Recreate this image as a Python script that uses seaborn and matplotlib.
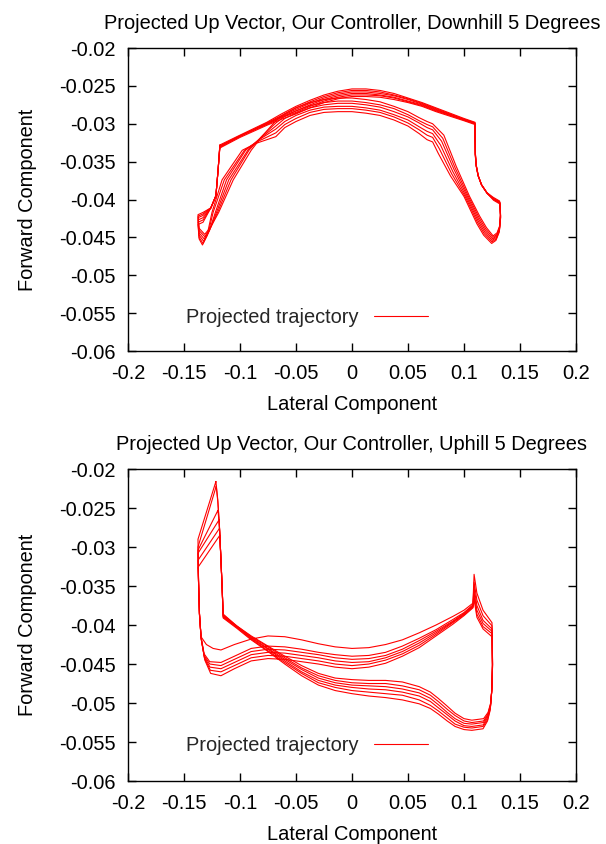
import seaborn as sns
import matplotlib.pyplot as plt
import pandas as pd
from matplotlib.lines import Line2D

# axis ticks shared by both panels
x_ticks = [-0.2, -0.15, -0.1, -0.05, 0.0, 0.05, 0.1, 0.15, 0.2]
x_tick_labels = ["-0.2", "-0.15", "-0.1", "-0.05", "0", "0.05", "0.1", "0.15", "0.2"]
y_ticks = [-0.02, -0.025, -0.03, -0.035, -0.04, -0.045, -0.05, -0.055, -0.06]
y_tick_labels = ["-0.02", "-0.025", "-0.03", "-0.035", "-0.04", "-0.045", "-0.05", "-0.055", "-0.06"]

titles = ["Projected Up Vector, Our Controller, Downhill 5 Degrees",
          "Projected Up Vector, Our Controller, Uphill 5 Degrees"]

# ---------------- downhill (6 gait cycles) ----------------
# left corner -> junction
dh_head = [
    [(-0.1180, -0.0328), (-0.1000, -0.0315), (-0.0760, -0.0298)],
    [(-0.1180, -0.0329), (-0.1000, -0.0316), (-0.0760, -0.0299)],
    [(-0.1180, -0.0330), (-0.1000, -0.0316), (-0.0760, -0.0300)],
    [(-0.1180, -0.0331), (-0.1000, -0.0317), (-0.0760, -0.0300)],
    [(-0.1180, -0.0330), (-0.1000, -0.0316), (-0.0760, -0.0301)],
    [(-0.1180, -0.0332), (-0.1000, -0.0318), (-0.0760, -0.0302)],
]
# upper arc
dh_upper_x = [-0.063, -0.050, -0.0375, -0.025, -0.0125, 0.0, 0.0125, 0.025, 0.0375, 0.050, 0.0625, 0.075, 0.0875, 0.100]
dh_upper_y = [
    [-0.0287, -0.0277, -0.0269, -0.0262, -0.0257, -0.0254, -0.0254, -0.0256, -0.0260, -0.0266, -0.0272, -0.0279, -0.0286, -0.0293],
    [-0.0289, -0.0279, -0.0271, -0.0264, -0.0259, -0.0256, -0.0256, -0.0258, -0.0262, -0.0267, -0.0273, -0.0280, -0.0287, -0.0294],
    [-0.0290, -0.0281, -0.0273, -0.0266, -0.0261, -0.0258, -0.0258, -0.0260, -0.0263, -0.0268, -0.0274, -0.0281, -0.0288, -0.0294],
    [-0.0291, -0.0283, -0.0275, -0.0268, -0.0263, -0.0260, -0.0260, -0.0262, -0.0265, -0.0270, -0.0275, -0.0282, -0.0288, -0.0295],
    [-0.0292, -0.0285, -0.0277, -0.0270, -0.0265, -0.0262, -0.0262, -0.0263, -0.0266, -0.0271, -0.0276, -0.0283, -0.0289, -0.0295],
    [-0.0294, -0.0287, -0.0279, -0.0272, -0.0267, -0.0264, -0.0264, -0.0265, -0.0268, -0.0272, -0.0277, -0.0284, -0.0290, -0.0296],
]
# right corner, right edge, bottom right, diagonal up to the kink
dh_right = [
    [(0.1098, -0.0298), (0.1098, -0.0320), (0.1100, -0.0340), (0.1108, -0.0355), (0.1125, -0.0368), (0.1155, -0.0380),
     (0.1205, -0.0391), (0.1260, -0.0397), (0.1318, -0.0402), (0.1325, -0.0420), (0.1318, -0.0435), (0.1295, -0.0444),
     (0.1260, -0.0448), (0.1200, -0.0437), (0.1140, -0.0422), (0.1050, -0.0396), (0.0930, -0.0356), (0.0820, -0.0315),
     (0.0720, -0.0300), (0.0670, -0.0297)],
    [(0.1098, -0.0299), (0.1098, -0.0320), (0.1100, -0.0340), (0.1108, -0.0355), (0.1125, -0.0368), (0.1155, -0.0380),
     (0.1205, -0.0391), (0.1260, -0.0398), (0.1318, -0.0403), (0.1325, -0.0420), (0.1318, -0.0436), (0.1295, -0.0446),
     (0.1258, -0.0450), (0.1195, -0.0439), (0.1135, -0.0424), (0.1040, -0.0396), (0.0920, -0.0358), (0.0810, -0.0319),
     (0.0720, -0.0304), (0.0670, -0.0301)],
    [(0.1098, -0.0299), (0.1099, -0.0320), (0.1101, -0.0340), (0.1110, -0.0356), (0.1127, -0.0369), (0.1157, -0.0381),
     (0.1207, -0.0392), (0.1262, -0.0399), (0.1320, -0.0404), (0.1326, -0.0421), (0.1318, -0.0437), (0.1293, -0.0448),
     (0.1255, -0.0452), (0.1190, -0.0441), (0.1130, -0.0426), (0.1030, -0.0396), (0.0910, -0.0360), (0.0800, -0.0323),
     (0.0720, -0.0308), (0.0670, -0.0305)],
    [(0.1098, -0.0300), (0.1099, -0.0320), (0.1101, -0.0340), (0.1110, -0.0356), (0.1127, -0.0369), (0.1157, -0.0381),
     (0.1207, -0.0392), (0.1262, -0.0399), (0.1320, -0.0404), (0.1326, -0.0422), (0.1317, -0.0439), (0.1290, -0.0450),
     (0.1252, -0.0454), (0.1185, -0.0443), (0.1125, -0.0428), (0.1020, -0.0396), (0.0900, -0.0363), (0.0790, -0.0328),
     (0.0720, -0.0313), (0.0670, -0.0310)],
    [(0.1098, -0.0300), (0.1100, -0.0320), (0.1102, -0.0340), (0.1111, -0.0356), (0.1128, -0.0369), (0.1158, -0.0381),
     (0.1208, -0.0392), (0.1264, -0.0400), (0.1322, -0.0405), (0.1327, -0.0423), (0.1316, -0.0441), (0.1288, -0.0452),
     (0.1250, -0.0456), (0.1180, -0.0445), (0.1120, -0.0430), (0.1010, -0.0396), (0.0890, -0.0366), (0.0780, -0.0333),
     (0.0720, -0.0318), (0.0670, -0.0315)],
    [(0.1098, -0.0301), (0.1100, -0.0320), (0.1102, -0.0340), (0.1111, -0.0356), (0.1128, -0.0369), (0.1158, -0.0381),
     (0.1208, -0.0392), (0.1264, -0.0401), (0.1322, -0.0406), (0.1327, -0.0424), (0.1315, -0.0443), (0.1285, -0.0454),
     (0.1247, -0.0458), (0.1175, -0.0447), (0.1115, -0.0432), (0.1000, -0.0396), (0.0880, -0.0369), (0.0770, -0.0339),
     (0.0720, -0.0324), (0.0670, -0.0321)],
]
# lower arc (kink -> left junction)
dh_lower_x = [0.060, 0.050, 0.0375, 0.025, 0.0125, 0.0, -0.0125, -0.025, -0.0375, -0.050, -0.060, -0.068]
dh_lower_y = [
    [-0.0292, -0.0284, -0.0277, -0.0271, -0.0268, -0.0266, -0.0266, -0.0268, -0.0272, -0.0279, -0.0287, -0.0296],
    [-0.0296, -0.0288, -0.0280, -0.0275, -0.0272, -0.0270, -0.0270, -0.0272, -0.0276, -0.0283, -0.0290, -0.0299],
    [-0.0299, -0.0291, -0.0284, -0.0278, -0.0275, -0.0273, -0.0273, -0.0275, -0.0279, -0.0286, -0.0293, -0.0303],
    [-0.0304, -0.0295, -0.0288, -0.0282, -0.0279, -0.0277, -0.0277, -0.0278, -0.0282, -0.0289, -0.0297, -0.0307],
    [-0.0308, -0.0299, -0.0291, -0.0285, -0.0282, -0.0280, -0.0280, -0.0281, -0.0285, -0.0293, -0.0301, -0.0312],
    [-0.0313, -0.0303, -0.0295, -0.0289, -0.0286, -0.0284, -0.0284, -0.0285, -0.0289, -0.0297, -0.0305, -0.0317],
]
# diagonal down to the hook, hook, left edge back up to the corner
dh_left = [
    [(-0.0800, -0.0316), (-0.0900, -0.0335), (-0.1060, -0.0374), (-0.1190, -0.0417), (-0.1260, -0.0436), (-0.1315, -0.0446),
     (-0.1365, -0.0438), (-0.1375, -0.0420), (-0.1330, -0.0417), (-0.1260, -0.0411), (-0.1215, -0.0395), (-0.1195, -0.0360),
     (-0.1180, -0.0328)],
    [(-0.0815, -0.0318), (-0.0920, -0.0335), (-0.1080, -0.0374), (-0.1200, -0.0417), (-0.1265, -0.0438), (-0.1315, -0.0449),
     (-0.1365, -0.0441), (-0.1375, -0.0422), (-0.1330, -0.0419), (-0.1260, -0.0411), (-0.1215, -0.0395), (-0.1195, -0.0360),
     (-0.1180, -0.0329)],
    [(-0.0825, -0.0320), (-0.0930, -0.0335), (-0.1100, -0.0374), (-0.1210, -0.0417), (-0.1270, -0.0440), (-0.1320, -0.0452),
     (-0.1365, -0.0444), (-0.1375, -0.0424), (-0.1330, -0.0421), (-0.1260, -0.0411), (-0.1215, -0.0395), (-0.1195, -0.0360),
     (-0.1180, -0.0330)],
    [(-0.0840, -0.0322), (-0.0950, -0.0335), (-0.1120, -0.0374), (-0.1220, -0.0417), (-0.1275, -0.0442), (-0.1325, -0.0455),
     (-0.1365, -0.0447), (-0.1375, -0.0427), (-0.1330, -0.0424), (-0.1260, -0.0411), (-0.1215, -0.0395), (-0.1195, -0.0360),
     (-0.1180, -0.0331)],
    [(-0.0850, -0.0324), (-0.0960, -0.0335), (-0.1140, -0.0374), (-0.1240, -0.0417), (-0.1285, -0.0445), (-0.1330, -0.0458),
     (-0.1365, -0.0450), (-0.1375, -0.0430), (-0.1330, -0.0427), (-0.1260, -0.0411), (-0.1215, -0.0395), (-0.1195, -0.0360),
     (-0.1180, -0.0330)],
    [(-0.0860, -0.0326), (-0.0980, -0.0335), (-0.1160, -0.0374), (-0.1250, -0.0417), (-0.1295, -0.0448), (-0.1335, -0.0460),
     (-0.1365, -0.0452), (-0.1375, -0.0433), (-0.1330, -0.0430), (-0.1260, -0.0411), (-0.1215, -0.0395), (-0.1195, -0.0360),
     (-0.1180, -0.0332)],
]

# ---------------- uphill (6 gait cycles) ----------------
# spike top, down to the outer left edge, bottom-left corner
uh_left = [
    [(-0.1215, -0.0216), (-0.1375, -0.0290), (-0.1370, -0.0345), (-0.1362, -0.0385), (-0.1348, -0.0415), (-0.1300, -0.0425),
     (-0.1240, -0.0430)],
    [(-0.1212, -0.0222), (-0.1375, -0.0300), (-0.1370, -0.0345), (-0.1362, -0.0385), (-0.1348, -0.0415), (-0.1320, -0.0437),
     (-0.1270, -0.0447)],
    [(-0.1197, -0.0253), (-0.1375, -0.0304), (-0.1370, -0.0345), (-0.1362, -0.0385), (-0.1348, -0.0416), (-0.1320, -0.0439),
     (-0.1270, -0.0450)],
    [(-0.1186, -0.0265), (-0.1375, -0.0308), (-0.1370, -0.0345), (-0.1362, -0.0385), (-0.1347, -0.0417), (-0.1318, -0.0441),
     (-0.1268, -0.0454)],
    [(-0.1183, -0.0276), (-0.1375, -0.0317), (-0.1370, -0.0345), (-0.1362, -0.0386), (-0.1346, -0.0418), (-0.1316, -0.0443),
     (-0.1265, -0.0458)],
    [(-0.1180, -0.0285), (-0.1375, -0.0326), (-0.1370, -0.0346), (-0.1362, -0.0387), (-0.1345, -0.0419), (-0.1314, -0.0445),
     (-0.1262, -0.0462)],
]
# lower bowl from the left corner to the right junction
uh_bowl_x = [-0.117, -0.105, -0.090, -0.075, -0.060, -0.045, -0.030, -0.015, 0.0, 0.015, 0.030, 0.045, 0.060, 0.075, 0.090, 0.100, 0.108]
uh_bowl_y = [
    [-0.0432, -0.0425, -0.0418, -0.0414, -0.0415, -0.0419, -0.0424, -0.0428, -0.0430, -0.0429, -0.0425, -0.0419, -0.0410, -0.0400, -0.0389, -0.0381, -0.0372],
    [-0.0448, -0.0440, -0.0430, -0.0427, -0.0428, -0.0431, -0.0435, -0.0438, -0.0440, -0.0439, -0.0435, -0.0427, -0.0417, -0.0406, -0.0393, -0.0384, -0.0374],
    [-0.0452, -0.0444, -0.0434, -0.0431, -0.0432, -0.0435, -0.0438, -0.0442, -0.0444, -0.0443, -0.0439, -0.0431, -0.0420, -0.0408, -0.0395, -0.0385, -0.0375],
    [-0.0456, -0.0448, -0.0438, -0.0435, -0.0436, -0.0439, -0.0442, -0.0446, -0.0448, -0.0447, -0.0442, -0.0434, -0.0423, -0.0410, -0.0396, -0.0386, -0.0376],
    [-0.0460, -0.0452, -0.0442, -0.0439, -0.0440, -0.0443, -0.0446, -0.0450, -0.0452, -0.0450, -0.0445, -0.0437, -0.0426, -0.0412, -0.0397, -0.0387, -0.0377],
    [-0.0465, -0.0456, -0.0446, -0.0443, -0.0444, -0.0447, -0.0450, -0.0454, -0.0456, -0.0454, -0.0449, -0.0440, -0.0429, -0.0414, -0.0399, -0.0388, -0.0378],
]
# right spike, right edge, bottom-right corner
uh_right = [
    [(0.1090, -0.0335), (0.1115, -0.0359), (0.1170, -0.0381), (0.1250, -0.0397), (0.1255, -0.0450), (0.1250, -0.0480),
     (0.1238, -0.0500), (0.1215, -0.0512), (0.1175, -0.0520)],
    [(0.1090, -0.0345), (0.1115, -0.0368), (0.1170, -0.0388), (0.1250, -0.0401), (0.1255, -0.0450), (0.1250, -0.0481),
     (0.1238, -0.0501), (0.1214, -0.0514), (0.1174, -0.0523)],
    [(0.1090, -0.0352), (0.1115, -0.0375), (0.1170, -0.0394), (0.1250, -0.0405), (0.1255, -0.0451), (0.1249, -0.0482),
     (0.1237, -0.0503), (0.1213, -0.0516), (0.1173, -0.0525)],
    [(0.1090, -0.0358), (0.1115, -0.0381), (0.1170, -0.0398), (0.1250, -0.0408), (0.1254, -0.0452), (0.1248, -0.0483),
     (0.1236, -0.0505), (0.1212, -0.0518), (0.1172, -0.0528)],
    [(0.1090, -0.0363), (0.1115, -0.0386), (0.1170, -0.0402), (0.1250, -0.0411), (0.1254, -0.0452), (0.1248, -0.0484),
     (0.1235, -0.0507), (0.1211, -0.0521), (0.1171, -0.0530)],
    [(0.1090, -0.0367), (0.1115, -0.0390), (0.1170, -0.0405), (0.1250, -0.0415), (0.1253, -0.0453), (0.1247, -0.0486),
     (0.1234, -0.0509), (0.1210, -0.0523), (0.1170, -0.0533)],
]
# bottom path going left, up the diagonal
uh_path_x = [0.107, 0.100, 0.092, 0.085, 0.077, 0.070, 0.060, 0.045, 0.030, 0.015, 0.0, -0.015, -0.030, -0.045, -0.060, -0.075, -0.090, -0.103]
uh_path_y = [
    [-0.0522, -0.0520, -0.0513, -0.0504, -0.0494, -0.0486, -0.0479, -0.0473, -0.0471, -0.0471, -0.0470, -0.0468, -0.0462, -0.0452, -0.0440, -0.0427, -0.0414, -0.0401],
    [-0.0525, -0.0523, -0.0516, -0.0508, -0.0498, -0.0490, -0.0483, -0.0478, -0.0475, -0.0475, -0.0474, -0.0471, -0.0465, -0.0455, -0.0442, -0.0428, -0.0415, -0.0401],
    [-0.0527, -0.0526, -0.0520, -0.0512, -0.0502, -0.0494, -0.0487, -0.0482, -0.0479, -0.0478, -0.0477, -0.0474, -0.0468, -0.0457, -0.0444, -0.0430, -0.0416, -0.0402],
    [-0.0530, -0.0529, -0.0523, -0.0515, -0.0506, -0.0498, -0.0491, -0.0486, -0.0483, -0.0482, -0.0480, -0.0477, -0.0471, -0.0460, -0.0446, -0.0431, -0.0417, -0.0402],
    [-0.0532, -0.0531, -0.0527, -0.0519, -0.0510, -0.0503, -0.0496, -0.0490, -0.0488, -0.0486, -0.0484, -0.0480, -0.0474, -0.0462, -0.0448, -0.0433, -0.0418, -0.0403],
    [-0.0535, -0.0534, -0.0530, -0.0523, -0.0514, -0.0507, -0.0501, -0.0496, -0.0493, -0.0491, -0.0488, -0.0484, -0.0477, -0.0465, -0.0450, -0.0434, -0.0419, -0.0404],
]
# inner corner and inner vertical up to the spike
uh_inner = [
    [(-0.1150, -0.0386), (-0.1160, -0.0350), (-0.1172, -0.0310), (-0.1185, -0.0270), (-0.1198, -0.0240), (-0.1215, -0.0216)],
    [(-0.1150, -0.0387), (-0.1160, -0.0350), (-0.1172, -0.0310), (-0.1185, -0.0270), (-0.1198, -0.0242), (-0.1212, -0.0222)],
    [(-0.1150, -0.0388), (-0.1160, -0.0350), (-0.1172, -0.0310), (-0.1185, -0.0270), (-0.1197, -0.0253)],
    [(-0.1150, -0.0389), (-0.1160, -0.0350), (-0.1172, -0.0310), (-0.1186, -0.0265)],
    [(-0.1150, -0.0390), (-0.1160, -0.0350), (-0.1172, -0.0310), (-0.1183, -0.0276)],
    [(-0.1150, -0.0391), (-0.1160, -0.0350), (-0.1172, -0.0310), (-0.1180, -0.0285)],
]

downhill_loops = [dh_head[i] + list(zip(dh_upper_x, dh_upper_y[i])) + dh_right[i]
                  + list(zip(dh_lower_x, dh_lower_y[i])) + dh_left[i] for i in range(6)]
uphill_loops = [uh_left[i] + list(zip(uh_bowl_x, uh_bowl_y[i])) + uh_right[i]
                + list(zip(uh_path_x, uh_path_y[i])) + uh_inner[i] for i in range(6)]


def to_frame(loops):
    rows = []
    for i, loop in enumerate(loops):
        for k, (x, y) in enumerate(loop):
            rows.append({"cycle": i, "step": k, "lateral": x, "forward": y})
    return pd.DataFrame(rows)


sns.set_theme(style="ticks")
plt.rcParams["font.family"] = ["Liberation Sans", "DejaVu Sans"]

fig = plt.figure(figsize=(6.06, 8.44), dpi=100)
ax_top = fig.add_axes([0.2112, 0.5841, 0.7393, 0.3590])
ax_bot = fig.add_axes([0.2112, 0.0746, 0.7393, 0.3697])

panels = [(ax_top, downhill_loops, titles[0], 0.109), (ax_bot, uphill_loops, titles[1], 0.115)]
for ax, loops, title, key_y in panels:
    df = to_frame(loops)
    sns.lineplot(data=df, x="lateral", y="forward", units="cycle", estimator=None,
                 sort=False, color="#ff0000", linewidth=0.8, ax=ax, legend=False)
    ax.set_xlim(-0.2, 0.2)
    ax.set_ylim(-0.06, -0.02)
    ax.set_xticks(x_ticks)
    ax.set_xticklabels(x_tick_labels)
    ax.set_yticks(y_ticks)
    ax.set_yticklabels(y_tick_labels)
    ax.tick_params(direction="in", top=True, right=True, length=6, width=1,
                   labelsize=14.4, pad=9, color="black", labelcolor="black")
    for s in ax.spines.values():
        s.set_color("black")
        s.set_linewidth(1.0)
    ax.set_title(title, fontsize=14.4, pad=14, color="black")
    ax.set_xlabel("Lateral Component", fontsize=14.4, labelpad=9, color="black")
    ax.set_ylabel("Forward Component", fontsize=14.4, labelpad=16, color="black")
    handle = Line2D([], [], color="#ff0000", linewidth=0.8)
    ax.legend([handle], ["Projected trajectory"], loc="center", bbox_to_anchor=(0.40, key_y),
              frameon=False, markerfirst=False, fontsize=14.4, handlelength=2.7, handletextpad=0.8)

plt.savefig("out.png", dpi=100)
plt.close()
